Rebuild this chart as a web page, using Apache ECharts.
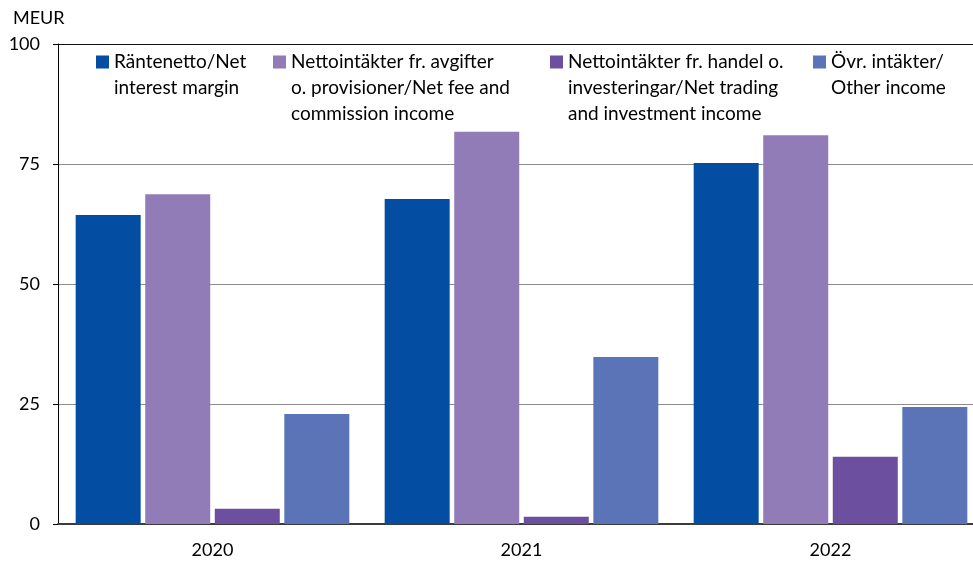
<!DOCTYPE html>
<html>
<head>
<meta charset="utf-8">
<script src="https://cdn.jsdelivr.net/npm/echarts@6/dist/echarts.min.js"></script>
<style>html,body{margin:0;padding:0;background:#fff}#c{width:973px;height:561px}</style>
</head>
<body>
<div id="c"></div>
<script>
const categories = ['2020', '2021', '2022'];
const seriesNames = [
  'Räntenetto/Net\ninterest margin',
  'Nettointäkter fr. avgifter\no. provisioner/Net fee and\ncommission income',
  'Nettointäkter fr. handel o.\ninvesteringar/Net trading\nand investment income',
  'Övr. intäkter/\nOther income'
];
const netInterest = [64.4, 67.7, 75.2];
const netFee = [68.7, 81.7, 81.0];
const netTrading = [3.2, 1.5, 14.0];
const otherIncome = [22.9, 34.8, 24.4];
const yTicks = [0, 25, 50, 75, 100];

const colors = ['#034EA2', '#927CB8', '#6D4F9F', '#5B74B8'];
const values = [netInterest, netFee, netTrading, otherIncome];
const FONT = 'Lato';
const legendX = [96, 273, 550, 813];

function iconFor(lines) {
  const h = lines === 2 ? 39 : 65;
  return { icon: 'path://M0,0L13,0L13,13L0,13Z M0,' + h + 'L0.001,' + h + 'Z', h: h };
}

const legends = seriesNames.map((name, i) => {
  const lines = name.split('\n').length;
  const ic = iconFor(lines);
  return {
    data: [name],
    left: legendX[i],
    top: 49,
    padding: 0,
    orient: 'horizontal',
    icon: ic.icon,
    itemWidth: 13,
    itemHeight: ic.h,
    selectedMode: false,
    textStyle: { fontFamily: FONT, fontSize: 19, color: '#000', lineHeight: 26 }
  };
});

const chart = echarts.init(document.getElementById('c'));
chart.setOption({
  animation: false,
  color: colors,
  title: {
    text: 'MEUR', left: 13, top: 9, padding: 0,
    textStyle: { fontFamily: FONT, fontSize: 18, fontWeight: 'normal', color: '#000' }
  },
  legend: legends,
  grid: { left: 58, width: 927, top: 44, bottom: 37, outerBoundsMode: 'none' },
  xAxis: {
    type: 'category',
    data: categories,
    axisLine: { show: true, lineStyle: { color: '#3c3c3c', width: 2 } },
    axisTick: { show: false },
    axisLabel: { fontFamily: FONT, fontSize: 18, color: '#000', margin: 17 }
  },
  yAxis: {
    type: 'value',
    min: 0, max: 100, interval: 25,
    axisLine: { show: true, lineStyle: { color: '#000', width: 1 } },
    axisTick: { show: true, inside: false, length: 5, lineStyle: { color: '#000' } },
    axisLabel: {
      fontFamily: FONT, fontSize: 18, color: '#000', margin: 18,
      formatter: v => yTicks.includes(v) ? String(v) : ''
    },
    splitLine: { show: true, lineStyle: { color: ['#8c8c8c', '#8c8c8c', '#8c8c8c', '#8c8c8c', '#111'], width: 1 } }
  },
  series: seriesNames.map((name, i) => ({
    name: name,
    type: 'bar',
    data: values[i],
    barWidth: 65,
    barGap: '7%',
    itemStyle: { color: colors[i] }
  }))
});
</script>
</body>
</html>
